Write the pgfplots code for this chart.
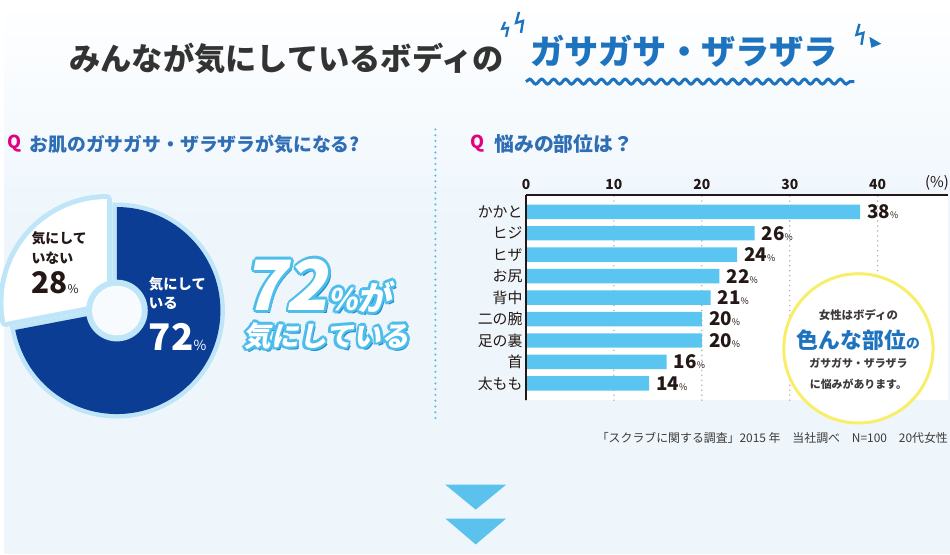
\documentclass[border=0pt]{standalone}
\usepackage{pgfplots}
\pgfplotsset{compat=1.18}
\usepackage{pgfplotstable}
\usepackage{fontspec}
\setmainfont{Noto Sans CJK JP}
\usetikzlibrary{decorations.pathmorphing}

\definecolor{textdark}{HTML}{231815}
\definecolor{titlegray}{HTML}{333333}
\definecolor{titleblue}{HTML}{1E73BE}
\definecolor{headblue}{HTML}{2F6EB5}
\definecolor{qpink}{HTML}{E4007F}
\definecolor{barblue}{HTML}{5BC5F2}
\definecolor{pieblue}{HTML}{0C3D94}
\definecolor{glow}{HTML}{BFE5F8}
\definecolor{bgblue}{HTML}{EEF6FC}
\definecolor{sepblue}{HTML}{5BC0EB}
\definecolor{ringyellow}{HTML}{F8EE6A}
\definecolor{gridgray}{HTML}{AAAAAA}
\definecolor{olblue}{HTML}{4DBDEB}
\definecolor{shblue}{HTML}{1F8ACB}
\definecolor{notegray}{HTML}{3E3A39}
\definecolor{arrowblue}{HTML}{5BC2EE}

\pgfplotstableread{
part value
yes 72
no 28
}\piedata

\pgfplotstableread{
pos value
8 38
7 26
6 24
5 22
4 21
3 20
2 20
1 16
0 14
}\bardata

\newcommand\olnode[3]{%
  \node[anchor=base west, inner sep=0, text=shblue, font=#2, xslant=0.18, xshift=3bp, yshift=-3bp] at #1 {#3};
  \foreach \a in {0,45,...,315}{\node[anchor=base west, inner sep=0, text=olblue, font=#2, xslant=0.18, shift={(\a:2.6bp)}] at #1 {#3};}
  \node[anchor=base west, inner sep=0, text=white, font=#2, xslant=0.18] at #1 {#3};
}

\begin{document}
\pgfplotstablegetelem{0}{value}\of\piedata
\pgfmathsetmacro\angYes{90-3.6*\pgfplotsretval}
\pgfmathsetmacro\angNo{\angYes+360}
\begin{tikzpicture}
\useasboundingbox (0,0) rectangle (950bp,-557bp);
\begin{scope}[x=1bp,y=-1bp]
  \shade[top color=white, bottom color=bgblue] (0,0) rectangle (950,220);
  \fill[bgblue] (0,219.5) rectangle (950,557);
  % title
  \node[anchor=west, inner sep=0, text=titlegray, font=\bfseries\fontsize{31.5}{31.5}\selectfont] at (65,59) {みんなが気にしているボディの};
  \node[anchor=west, inner sep=0, text=titleblue, font=\bfseries\fontsize{34.5}{34.5}\selectfont] at (528,52) {ガサガサ・ザラザラ};
  \draw[titleblue, line width=3bp, decorate, decoration={snake, segment length=12bp, amplitude=2.5bp}] (524,82) -- (854,82);
  \draw[titleblue, line width=2.4bp] (517,12) -- (514,23) -- (521,21) -- (519,33);
  \draw[titleblue, line width=2.2bp] (503,22) -- (500,29) -- (506,28) -- (504,37);
  \draw[titleblue, line width=2.4bp] (859,24) -- (856,35) -- (863,33) -- (861,45);
  \fill[titleblue] (869,37) -- (881,44) -- (871,48) -- cycle;
  % headers
  \node[anchor=west, inner sep=0, text=qpink, font=\bfseries\fontsize{18}{18}\selectfont] at (3,144) {Q};
  \node[anchor=west, inner sep=0, text=headblue, font=\bfseries\fontsize{19}{19}\selectfont] at (25,145) {お肌のガサガサ・ザラザラが気になる?};
  \node[anchor=west, inner sep=0, text=qpink, font=\bfseries\fontsize{18}{18}\selectfont] at (468,144) {Q};
  \node[anchor=west, inner sep=0, text=headblue, font=\bfseries\fontsize{20}{20}\selectfont] at (492,145) {悩みの部位は？};
  % separator
  \draw[sepblue, line width=2.4bp, line cap=round, dash pattern=on 0bp off 5.8bp] (433,130) -- (433,425);
\end{scope}

% donut
\begin{axis}[at={(113bp,-312bp)}, anchor=center, scale only axis, width=208bp, height=208bp,
  xmin=-104, xmax=104, ymin=-104, ymax=104, hide axis, clip=false]
  \draw[glow, line width=9bp] (axis cs:0,0) -- (axis cs:0,104) arc[start angle=90, end angle=\angYes, radius=104bp] -- cycle;
  \fill[pieblue] (axis cs:0,0) -- (axis cs:0,104) arc[start angle=90, end angle=\angYes, radius=104bp] -- cycle;
  \draw[glow, line width=10bp, line join=round] (axis cs:-10,8) -- (axis cs:-10,112) arc[start angle=90, end angle=\angNo, radius=104bp] -- cycle;
  \fill[white] (axis cs:-10,8) -- (axis cs:-10,112) arc[start angle=90, end angle=\angNo, radius=104bp] -- cycle;
  \fill[glow] (axis cs:0,0) circle[radius=31bp];
  \fill[bgblue!40!white] (axis cs:0,0) circle[radius=25bp];
\end{axis}

% bars
\begin{axis}[at={(524bp,-196bp)}, anchor=north west, scale only axis, width=424bp, height=206bp,
  xmin=0, xmax=48, ymin=-0.78, ymax=8.78,
  xbar, bar width=14.5bp, bar shift=0pt,
  axis background/.style={fill=white},
  axis line style={draw=none},
  xtick={0,10,20,30,40}, xticklabel pos=upper,
  ytick={0,...,8}, yticklabels={太もも,首,足の裏,二の腕,背中,お尻,ヒザ,ヒジ,かかと},
  major tick length=0pt,
  xmajorgrids, grid style={gridgray, line width=1.6bp, line cap=round, dash pattern=on 0bp off 5bp},
  xticklabel style={font=\bfseries\fontsize{14}{14}\selectfont, text=textdark, yshift=2bp},
  yticklabel style={font=\fontsize{15}{15}\selectfont, text=textdark},
  /pgf/number format/assume math mode=true,
  point meta=x,
  nodes near coords={{\bfseries\fontsize{19}{19}\selectfont\pgfmathprintnumber{\pgfplotspointmeta}}{\fontsize{9}{9}\selectfont\%}},
  nodes near coords style={anchor=west, text=textdark, inner sep=0pt, xshift=7bp},
  clip=false]
  \addplot[fill=barblue, draw=none] table[x=value, y=pos] {\bardata};
  \draw[textdark, line width=2bp] (rel axis cs:0,1) -- (rel axis cs:1,1);
  \draw[textdark, line width=2bp] (rel axis cs:0,0) -- (rel axis cs:0,1);
\end{axis}

\begin{scope}[x=1bp,y=-1bp]
  % pie labels
  \node[anchor=west, inner sep=0, font=\bfseries\fontsize{14}{14}\selectfont, text=textdark] at (27,239) {気にして};
  \node[anchor=west, inner sep=0, font=\bfseries\fontsize{14}{14}\selectfont, text=textdark] at (27,259) {いない};
  \node[anchor=base west, inner sep=0, text=textdark] at (27,295) {{\bfseries\fontsize{30}{30}\selectfont 28}{\fontsize{12}{12}\selectfont\%}};
  \node[anchor=west, inner sep=0, font=\bfseries\fontsize{14.5}{14.5}\selectfont, text=white] at (145,285) {気にして};
  \node[anchor=west, inner sep=0, font=\bfseries\fontsize{14.5}{14.5}\selectfont, text=white] at (145,305) {いる};
  \node[anchor=base west, inner sep=0, text=white] at (145,352) {{\bfseries\fontsize{37}{37}\selectfont 72}{\fontsize{14}{14}\selectfont\%}};
  % big outlined text
  \olnode{(240,312)}{\bfseries}{{\fontsize{70}{70}\selectfont 72}{\fontsize{30}{30}\selectfont\%}{\fontsize{34}{34}\selectfont が}}
  \olnode{(240,348)}{\bfseries\fontsize{28}{28}\selectfont}{気にしている}
  % (%)
  \node[inner sep=0, font=\fontsize{15}{15}\selectfont, text=textdark] at (937,184) {(\%)};
  % circle
  \draw[ringyellow, line width=3bp, fill=white] (858,350) circle (75);
  \node[inner sep=0, font=\bfseries\fontsize{11.5}{11.5}\selectfont, text=notegray] at (858,317) {女性はボディの};
  \node[anchor=base, inner sep=0, text=titleblue] at (858,350) {{\bfseries\fontsize{22}{22}\selectfont 色んな部位}{\bfseries\fontsize{14}{14}\selectfont の}};
  \node[inner sep=0, font=\bfseries\fontsize{11}{11}\selectfont, text=notegray] at (858,365) {ガサガサ・ザラザラ};
  \node[inner sep=0, font=\bfseries\fontsize{11}{11}\selectfont, text=notegray] at (858,386) {に悩みがあります。};
  % note
  \node[anchor=east, inner sep=0, font=\fontsize{12}{12}\selectfont, text=notegray] at (948,440) {「スクラブに関する調査」2015 年　当社調べ　N=100　20代女性};
  % arrows
  \fill[arrowblue] (443,487) -- (504,487) -- (473.5,512) -- cycle;
  \fill[arrowblue] (443,521) -- (504,521) -- (473.5,547) -- cycle;
\end{scope}
\end{tikzpicture}
\end{document}
